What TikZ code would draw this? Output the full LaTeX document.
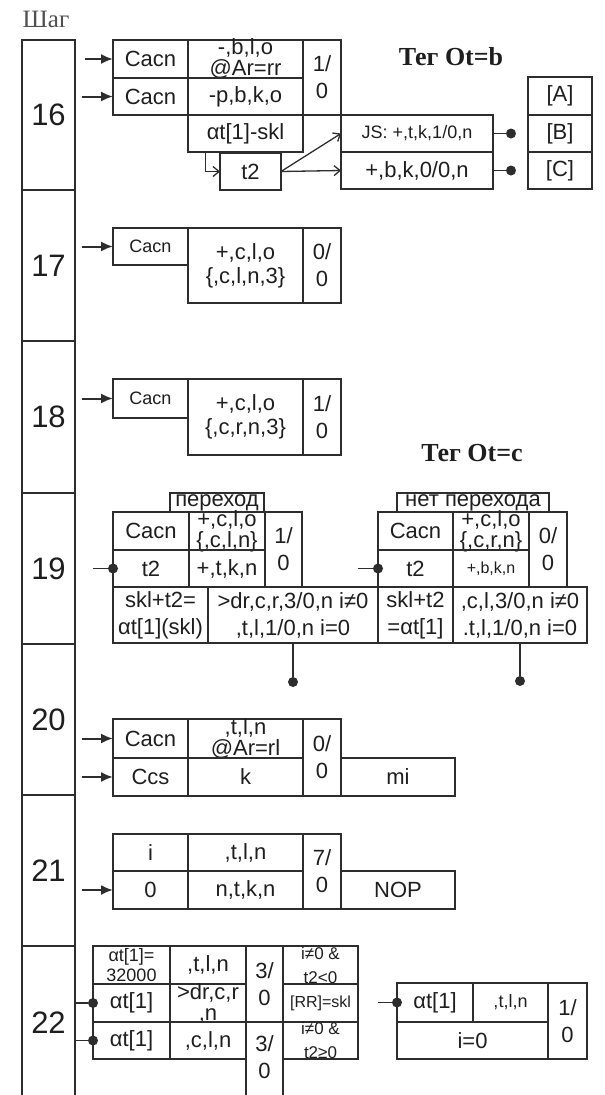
\documentclass[tikz,border=0pt]{standalone}
\usepackage{fontspec}
\setmainfont{Liberation Serif}
\setsansfont{Liberation Sans}
\usetikzlibrary{arrows.meta,positioning,fit}
\definecolor{linecol}{RGB}{45,45,45}
\definecolor{txtcol}{RGB}{30,30,30}
\definecolor{headcol}{RGB}{80,80,80}
\newcommand\txtmain{\sffamily\fontsize{22}{21}\selectfont}
\newcommand\txtpair{\sffamily\fontsize{22}{24}\selectfont}
\newcommand\txtfrac{\sffamily\fontsize{22}{27}\selectfont}
\newcommand\txtsmall{\sffamily\fontsize{18}{20}\selectfont}
\newcommand\txttiny{\sffamily\fontsize{16}{17}\selectfont}
\newcommand\txtstep{\sffamily\fontsize{31}{32}\selectfont}
\newcommand\txttitle{\rmfamily\bfseries\fontsize{26}{28}\selectfont}
\newcommand\txthead{\rmfamily\fontsize{25}{26}\selectfont}

\begin{document}
\begin{tikzpicture}[x=1pt, y=-1pt,
    cell/.style={draw=linecol, line width=1.8pt, inner sep=0pt, outer sep=0pt},
    stepcell/.style={cell, label={[font=\txtstep]center:#1}},
    every label/.style={inner sep=0pt, align=center, text=txtcol, font=\txtmain},
    inarrow/.style={draw=linecol, line width=2pt, -{Latex[length=12pt,width=10pt]}},
    link/.style={draw=linecol, line width=1.8pt},
    backarrow/.style={draw=linecol, line width=1.3pt, -{Straight Barb[length=6pt,width=10pt]}},
    dot/.style={circle, fill=linecol, inner sep=0pt, minimum size=10pt},
    tag/.style={font=\txttitle, text=txtcol}
]
    \useasboundingbox (0,0) rectangle (605,1095);
    \clip (0,0) rectangle (605,1095);

    % step column
    \node[font=\txthead, text=headcol] (head) at (46,19) {Шаг};
    \node[stepcell=16, fit={(22,40) (75,190)}] (s16) {};
    \node[stepcell=17, fit={(22,190) (75,341)}] (s17) {};
    \node[stepcell=18, fit={(22,341) (75,493)}] (s18) {};
    \node[stepcell=19, fit={(22,493) (75,644)}] (s19) {};
    \node[stepcell=20, fit={(22,644) (75,795)}] (s20) {};
    \node[stepcell=21, fit={(22,795) (75,946)}] (s21) {};
    \node[cell, fit={(22,946) (75,1110)}, label={[font=\txtstep, yshift=5pt]center:22}] (s22) {};

    % step 16
    \node[cell, fit={(113,40) (188,78)}, label={center:Cacn}] (c16a) {};
    \node[cell, fit={(188,40) (303,78)}, label={center:{-,b,l,o\\@Ar=rr}}] (c16b) {};
    \node[cell, fit={(303,40) (341,115)}, label={[font=\txtfrac]center:{1/\\0}}] (c16c) {};
    \node[cell, fit={(113,78) (188,115)}, label={center:Cacn}] (c16d) {};
    \node[cell, fit={(188,78) (303,115)}, label={center:{-p,b,k,o}}] (c16e) {};
    \node[cell, fit={(188,115) (303,152)}, label={center:{αt[1]-skl}}] (c16f) {};
    \node[cell, fit={(220,153) (281,190)}, label={center:t2}] (c16g) {};
    \node[cell, fit={(341,115) (493,152)}, label={[font=\txtsmall]center:{JS: +,t,k,1/0,n}}] (c16h) {};
    \node[cell, fit={(341,152) (493,189)}, label={center:{+,b,k,0/0,n}}] (c16i) {};
    \node[cell, fit={(528,77) (592,115)}, label={center:{[A]}}] (tA) {};
    \node[cell, fit={(528,115) (592,152)}, label={center:{[B]}}] (tB) {};
    \node[cell, fit={(528,152) (592,189)}, label={center:{[C]}}] (tC) {};
    \node[tag] (tagb) at (451,57) {Тег Оt=b};
    \node[dot] (dB) at ([xshift=18pt]c16h.east) {};
    \node[dot] (dC) at ([xshift=18pt]c16i.east) {};

    \draw[inarrow] ([xshift=-28pt]c16a.west) -- (c16a.west);
    \draw[inarrow] ([xshift=-31pt]c16d.west) -- (c16d.west);
    \draw[backarrow] ([xshift=-40pt]c16f.south) |- (c16g.west);
    \draw[backarrow] (c16g.east) -- (c16h.west);
    \draw[backarrow] (c16g.east) -- (c16i.west);
    \draw[link] (c16h.east) -- (dB);
    \draw[link] (c16i.east) -- (dC);

    % step 17
    \node[cell, fit={(113,228) (188,265)}, label={[font=\txtsmall]center:Cacn}] (c17a) {};
    \node[cell, fit={(188,228) (303,303)}, label={[font=\txtpair]center:{+,c,l,o\\\{,c,l,n,3\}}}] (c17b) {};
    \node[cell, fit={(303,228) (341,303)}, label={[font=\txtfrac]center:{0/\\0}}] (c17c) {};
    \draw[inarrow] ([xshift=-31pt]c17a.west) -- (c17a.west);

    % step 18
    \node[cell, fit={(113,379) (188,418)}, label={[font=\txtsmall]center:Cacn}] (c18a) {};
    \node[cell, fit={(188,379) (303,455)}, label={[font=\txtpair]center:{+,c,l,o\\\{,c,r,n,3\}}}] (c18b) {};
    \node[cell, fit={(303,379) (341,455)}, label={[font=\txtfrac]center:{1/\\0}}] (c18c) {};
    \draw[inarrow] ([xshift=-31pt]c18a.west) -- (c18a.west);

    % step 19
    \node[tag] (tagc) at (472,453) {Тег Оt=c};
    \node[cell, fit={(170,493) (264,512)}, label={center:переход}] (go) {};
    \node[cell, fit={(113,512) (189,550)}, label={center:Cacn}] (c19a) {};
    \node[cell, fit={(189,512) (265,550)}, label={center:{+,c,l,o\\\{,c,l,n\}}}] (c19b) {};
    \node[cell, fit={(265,512) (302,587)}, label={[font=\txtfrac]center:{1/\\0}}] (c19c) {};
    \node[cell, fit={(113,550) (189,587)}, label={center:t2}] (c19d) {};
    \node[cell, fit={(189,550) (265,587)}, label={center:{+,t,k,n}}] (c19e) {};
    \node[cell, fit={(113,587) (208,643)}, label={[font=\txtfrac]center:{skl+t2=\\αt[1](skl)}}] (c19f) {};
    \node[cell, fit={(208,587) (378,643)}, label={[font=\txtfrac]center:{>dr,c,r,3/0,n i≠0\\,t,l,1/0,n i=0}}] (c19g) {};
    \node[cell, fit={(397,493) (549,512)}, label={center:{нет перехода}}] (nogo) {};
    \node[cell, fit={(378,512) (453,550)}, label={center:Cacn}] (c19h) {};
    \node[cell, fit={(453,512) (529,550)}, label={center:{+,c,l,o\\\{,c,r,n\}}}] (c19i) {};
    \node[cell, fit={(529,512) (567,587)}, label={[font=\txtfrac]center:{0/\\0}}] (c19j) {};
    \node[cell, fit={(378,550) (453,587)}, label={center:t2}] (c19k) {};
    \node[cell, fit={(453,550) (529,587)}, label={[font=\txttiny]center:{+,b,k,n}}] (c19l) {};
    \node[cell, fit={(378,587) (453,643)}, label={[font=\txtfrac]center:{skl+t2\\=αt[1]}}] (c19m) {};
    \node[cell, fit={(453,587) (587,643)}, label={[font=\txtfrac]center:{,c,l,3/0,n i≠0\\.t,l,1/0,n i=0}}] (c19n) {};
    \node[dot] (d19a) at (c19d.west) {};
    \node[dot] (d19b) at (c19k.west) {};
    \node[dot] (d19c) at ([yshift=-39pt]c19g.south) {};
    \node[dot] (d19d) at ([yshift=-38pt]c19n.south) {};

    \draw[link] ([xshift=-20pt]d19a.center) -- (d19a);
    \draw[link] ([xshift=-20pt]d19b.center) -- (d19b);
    \draw[link] (c19g.south) -- (d19c);
    \draw[link] (c19n.south) -- (d19d);

    % step 20
    \node[cell, fit={(113,719) (188,758)}, label={center:Cacn}] (c20a) {};
    \node[cell, fit={(188,719) (303,758)}, label={center:{,t,l,n\\@Ar=rl}}] (c20b) {};
    \node[cell, fit={(303,719) (341,796)}, label={[font=\txtfrac]center:{0/\\0}}] (c20c) {};
    \node[cell, fit={(113,758) (188,796)}, label={center:Ccs}] (c20d) {};
    \node[cell, fit={(188,758) (303,796)}, label={center:k}] (c20e) {};
    \node[cell, fit={(341,758) (455,796)}, label={center:mi}] (c20f) {};
    \draw[inarrow] ([xshift=-31pt]c20a.west) -- (c20a.west);
    \draw[inarrow] ([xshift=-31pt]c20d.west) -- (c20d.west);

    % step 21
    \node[cell, fit={(113,834) (188,871)}, label={center:i}] (c21a) {};
    \node[cell, fit={(188,834) (303,871)}, label={center:{,t,l,n}}] (c21b) {};
    \node[cell, fit={(303,834) (341,909)}, label={[font=\txtfrac]center:{7/\\0}}] (c21c) {};
    \node[cell, fit={(113,871) (188,909)}, label={center:0}] (c21d) {};
    \node[cell, fit={(188,871) (303,909)}, label={center:{n,t,k,n}}] (c21e) {};
    \node[cell, fit={(341,871) (455,909)}, label={center:NOP}] (c21f) {};
    \draw[inarrow] ([xshift=-31pt]c21d.west) -- (c21d.west);

    % step 22
    \node[cell, fit={(93,946) (170,984)}, label={[font=\txtsmall]center:{αt[1]=\\32000}}] (c22a) {};
    \node[cell, fit={(170,946) (246,984)}, label={center:{,t,l,n}}] (c22b) {};
    \node[cell, fit={(246,946) (283,1022)}, label={[font=\txtfrac]center:{3/\\0}}] (c22c) {};
    \node[cell, fit={(283,946) (358,984)}, label={[font=\sffamily\fontsize{17}{24}\selectfont]center:{i≠0 \&\\t2<0}}] (c22d) {};
    \node[cell, fit={(93,984) (170,1022)}, label={center:{αt[1]}}] (c22e) {};
    \node[cell, fit={(170,984) (246,1022)}, label={center:{>dr,c,r\\,n}}] (c22f) {};
    \node[cell, fit={(283,984) (358,1022)}, label={[font=\txttiny]center:{[RR]=skl}}] (c22g) {};
    \node[cell, fit={(93,1022) (170,1059)}, label={center:{αt[1]}}] (c22h) {};
    \node[cell, fit={(170,1022) (246,1059)}, label={center:{,c,l,n}}] (c22i) {};
    \node[cell, fit={(246,1022) (283,1110)}, label={[font=\txtfrac, yshift=9pt]center:{3/\\0}}] (c22j) {};
    \node[cell, fit={(283,1022) (358,1059)}, label={[font=\sffamily\fontsize{17}{24}\selectfont]center:{i≠0 \&\\t2≥0}}] (c22k) {};
    \node[cell, fit={(397,983) (473,1022)}, label={center:{αt[1]}}] (c22l) {};
    \node[cell, fit={(473,983) (548,1022)}, label={[font=\txtsmall]center:{,t,l,n}}] (c22m) {};
    \node[cell, fit={(548,983) (587,1059)}, label={[font=\txtfrac]center:{1/\\0}}] (c22n) {};
    \node[cell, fit={(397,1022) (548,1059)}, label={center:{i=0}}] (c22o) {};
    \node[dot] (d22a) at (c22e.west) {};
    \node[dot] (d22b) at (c22h.west) {};
    \node[dot] (d22c) at (c22l.west) {};

    \draw[link] (s22.east |- d22a) -- (d22a);
    \draw[link] (s22.east |- d22b) -- (d22b);
    \draw[link] ([xshift=-19pt]d22c.center) -- (d22c);
\end{tikzpicture}
\end{document}
